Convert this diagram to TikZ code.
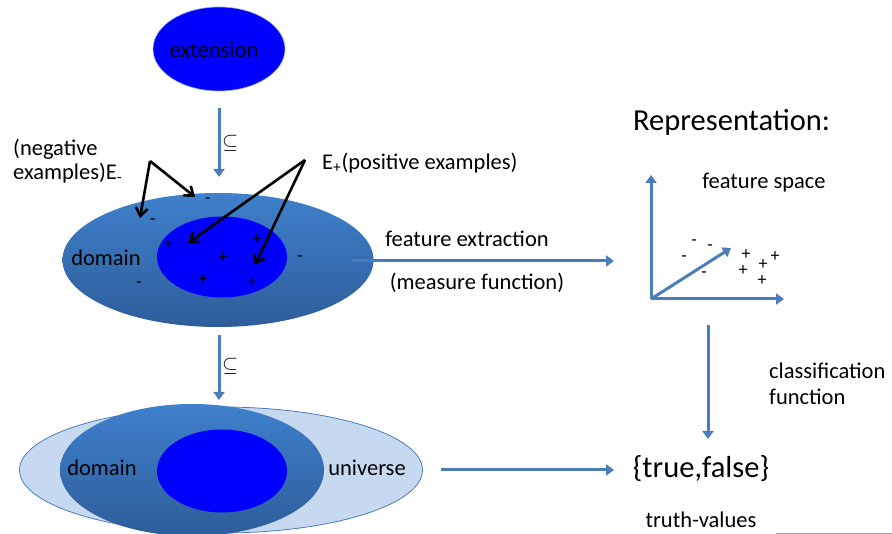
\documentclass[tikz,border=0pt]{standalone}
\usepackage{fontspec}
\setmainfont{Carlito}
\usetikzlibrary{arrows.meta,shapes.geometric}
\definecolor{arrblue}{HTML}{4A7EBB}
\definecolor{domtop}{HTML}{3F80CC}
\definecolor{dombot}{HTML}{2E5D9A}
\definecolor{pureblue}{HTML}{0000FF}
\definecolor{light}{HTML}{C6D9F1}
\tikzset{
  x=1pt,y=-1pt,
  blueflow/.style={draw=arrblue,line width=3pt,-{Triangle[length=8pt,width=11pt]}},
  pointer/.style={draw=black,line width=2.6pt,-{Straight Barb[length=8pt,width=12pt,line width=2.6pt]}},
  lbl/.style={inner sep=0pt,font=\fontsize{22.5}{26}\selectfont},
  big/.style={inner sep=0pt,font=\fontsize{30.5}{36}\selectfont},
  sign/.style={inner sep=0pt,text height=9pt,text depth=0pt,font=\fontsize{18}{20}\selectfont},
  core/.style={ellipse,fill=pureblue,draw=arrblue!60,line width=0.6pt,inner sep=0pt},
  dom/.style={ellipse,top color=domtop,bottom color=dombot,draw=none,inner sep=0pt},
}
\begin{document}
\begin{tikzpicture}
\useasboundingbox (0,0) rectangle (892,534);
% extension
\node[core,minimum width=132pt,minimum height=84pt] (ext) at (219,49) {};
\node[lbl] (extl) at (214,50) {extension};
% subset arrow 1
\coordinate (s1a) at (219,108);
\coordinate (s1b) at (219,177);
\draw[blueflow] (s1a) -- (s1b);
\node[inner sep=0pt,font=\fontsize{20}{24}\selectfont,anchor=west] (sub1) at (222,143) {$\subseteq$};
% domain
\node[dom,minimum width=311pt,minimum height=134pt] (dom) at (218,260) {};
\node[core,draw=none,minimum width=130pt,minimum height=81pt] (ext2) at (222,257) {};
\node[lbl] (doml) at (106,258) {domain};
\node[sign] (m1) at (208,199) {-};
\node[sign] (m2) at (153,220) {-};
\node[sign] (m3) at (300,257) {-};
\node[sign] (m4) at (139,283) {-};
\node[sign] (p1) at (168,245) {+};
\node[sign] (p2) at (257,240) {+};
\node[sign] (p3) at (223,258) {+};
\node[sign] (p4) at (203,280) {+};
\node[sign] (p5) at (252,283) {+};
% labels with pointers
\node[lbl,anchor=west] (neg1) at (13,149) {(negative};
\node[lbl,anchor=west] (neg2) at (13,173) {examples)E\textsubscript{-}};
\node[lbl,anchor=west] (pos) at (322,163) {E\textsubscript{+}(positive examples)};
\coordinate (nv) at (150,161);
\coordinate (nt1) at (140,218);
\coordinate (nt2) at (195,197);
\coordinate (pv) at (305,160);
\coordinate (pt1) at (188,243);
\coordinate (pt2) at (255,265);
\draw[pointer] (nv) -- (nt1);
\draw[pointer] (nv) -- (nt2);
\draw[pointer] (pv) -- (pt1);
\draw[pointer] (pv) -- (pt2);
% feature extraction
\coordinate (fa) at (352,261);
\coordinate (fb) at (614,261);
\draw[blueflow] (fa) -- (fb);
\node[lbl] (fe) at (467,239) {feature extraction};
\node[lbl] (mf) at (477,283) {(measure function)};
% representation
\node[big,anchor=west] (rep) at (633,122) {Representation:};
\node[lbl] (fs) at (764,183) {feature space};
\coordinate (o) at (651,299);
\coordinate (ay) at (651,175);
\coordinate (ax) at (784,299);
\coordinate (ad) at (731,248);
\draw[blueflow] (o) -- (ay);
\draw[blueflow] (o) -- (ax);
\draw[blueflow] (o) -- (ad);
\node[sign] (fm1) at (694,241) {-};
\node[sign] (fm2) at (710,246) {-};
\node[sign] (fm3) at (684,257) {-};
\node[sign] (fm4) at (704,273) {-};
\node[sign] (fp1) at (746,255) {+};
\node[sign] (fp2) at (743,271) {+};
\node[sign] (fp3) at (763,265) {+};
\node[sign] (fp4) at (775,257) {+};
\node[sign] (fp5) at (762,281) {+};
% classification
\coordinate (ca) at (708,325);
\coordinate (cb) at (708,439);
\draw[blueflow] (ca) -- (cb);
\node[lbl,anchor=west] (cl1) at (769,371) {classification};
\node[lbl,anchor=west] (cl2) at (769,397) {function};
% subset arrow 2
\coordinate (s2a) at (219,335);
\coordinate (s2b) at (219,400);
\draw[blueflow] (s2a) -- (s2b);
\node[inner sep=0pt,font=\fontsize{20}{24}\selectfont,anchor=west] (sub2) at (222,366) {$\subseteq$};
% bottom
\node[ellipse,fill=light,draw=arrblue,line width=0.8pt,minimum width=403pt,minimum height=126pt,inner sep=0pt] (uni) at (221,470) {};
\node[dom,minimum width=264pt,minimum height=132pt] (dom2) at (192,470) {};
\node[core,draw=none,minimum width=130pt,minimum height=83pt] (ext3) at (222,471) {};
\node[lbl] (doml2) at (102,468) {domain};
\node[lbl] (unil) at (367,468) {universe};
\coordinate (ba) at (441,470);
\coordinate (bb) at (614,470);
\draw[blueflow] (ba) -- (bb);
\node[big] (tf) at (701,469) {\{true,false\}};
\node[lbl] (tv) at (701,520) {truth-values};
\coordinate (la) at (776,533);
\coordinate (lb) at (892,533);
\draw[gray!70,line width=0.8pt] (la) -- (lb);
\end{tikzpicture}
\end{document}
